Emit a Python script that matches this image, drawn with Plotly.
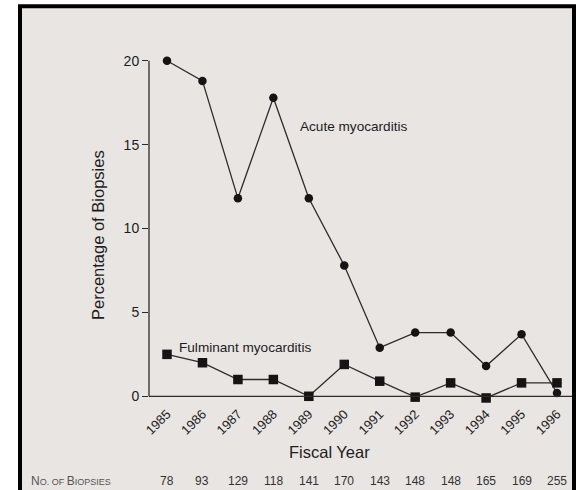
import plotly.graph_objects as go

years = [1985, 1986, 1987, 1988, 1989, 1990, 1991, 1992, 1993, 1994, 1995, 1996]
year_labels = [str(y) for y in years]
acute = [20.0, 18.8, 11.8, 17.8, 11.8, 7.8, 2.9, 3.8, 3.8, 1.8, 3.7, 0.2]
fulminant = [2.5, 2.0, 1.0, 1.0, 0.0, 1.9, 0.9, -0.05, 0.8, -0.1, 0.8, 0.8]
n_biopsies = [78, 93, 129, 118, 141, 170, 143, 148, 148, 165, 169, 255]
y_ticks = [0, 5, 10, 15, 20]

W, H = 578, 490
L, R, T, B = 149, 2, 44.25, 490 - 402.7
PW = W - L - R
PH = H - T - B


def px(x):
    return (x - L) / PW


def py(y):
    return (H - B - y) / PH


LINE = "#2e2b2b"
TXT = "#1e1c1c"
FONT = "Liberation Sans, Arial, sans-serif"

fig = go.Figure()
fig.add_trace(go.Scatter(x=years, y=acute, mode="lines+markers",
                         line=dict(color=LINE, width=1.3),
                         marker=dict(symbol="circle", size=8.5, color="#151313"),
                         cliponaxis=False, showlegend=False, hoverinfo="skip"))
fig.add_trace(go.Scatter(x=years, y=fulminant, mode="lines+markers",
                         line=dict(color=LINE, width=1.3),
                         marker=dict(symbol="square", size=9.5, color="#151313"),
                         cliponaxis=False, showlegend=False, hoverinfo="skip"))

shapes = [
    # frame
    dict(type="rect", xref="paper", yref="paper", x0=px(20), x1=px(574), y0=py(520), y1=py(6.5),
         line=dict(color="black", width=4), fillcolor="#e8e5e3", layer="below"),
    # y axis line
    dict(type="line", xref="paper", yref="y", x0=0, x1=0, y0=0, y1=20,
         line=dict(color=LINE, width=1.3)),
    # x axis line
    dict(type="line", xref="paper", yref="y", x0=0, x1=px(572), y0=0, y1=0,
         line=dict(color=LINE, width=1.3)),
]

annotations = [
    dict(text="Acute myocarditis", x=px(298), y=py(127), xref="paper", yref="paper",
         xanchor="left", yanchor="middle", showarrow=False, font=dict(size=13.6, color=TXT, family=FONT)),
    dict(text="Fulminant myocarditis", x=px(177), y=py(347), xref="paper", yref="paper",
         xanchor="left", yanchor="middle", showarrow=False, font=dict(size=13.6, color=TXT, family=FONT)),
    dict(text="Fiscal Year", x=px(329), y=py(452), xref="paper", yref="paper",
         xanchor="center", yanchor="middle", showarrow=False, font=dict(size=16.5, color=TXT, family=FONT)),
    dict(text="Percentage of Biopsies", x=px(98), y=py(235), xref="paper", yref="paper", textangle=-90,
         xanchor="center", yanchor="middle", showarrow=False, font=dict(size=16.5, color=TXT, family=FONT)),
    dict(text="N<span style='font-size:9px'>O. OF </span>B<span style='font-size:9px'>IOPSIES</span>",
         x=px(29), y=py(481), xref="paper", yref="paper",
         xanchor="left", yanchor="middle", showarrow=False, font=dict(size=12, color="#555", family=FONT)),
]
for yr, n in zip(years, n_biopsies):
    annotations.append(dict(text=str(n), x=yr, y=py(481), xref="x", yref="paper",
                            xanchor="center", yanchor="middle", showarrow=False,
                            font=dict(size=12, color="#333", family=FONT)))

fig.update_layout(
    width=W, height=H,
    margin=dict(l=L, r=R, t=T, b=B, pad=0),
    paper_bgcolor="white", plot_bgcolor="rgba(0,0,0,0)",
    font=dict(family=FONT, color=TXT),
    hovermode=False,
    xaxis=dict(range=[1985 - 18 / 35.45, 1996 + 19 / 35.45], tickvals=years, ticktext=year_labels,
               tickangle=-45, showgrid=False, zeroline=False, showline=False, ticks="",
               tickfont=dict(size=13, color=TXT, family=FONT)),
    yaxis=dict(range=[-0.4, 21], tickvals=y_ticks, showgrid=False, zeroline=False, showline=False,
               ticks="outside", ticklen=6, tickwidth=1.3, tickcolor=LINE,
               tickfont=dict(size=14, color=TXT, family=FONT)),
    shapes=shapes, annotations=annotations,
)

fig.write_html("out.html", config={"displayModeBar": False},
               post_script="document.body.style.margin='0';document.body.style.overflow='hidden';")
